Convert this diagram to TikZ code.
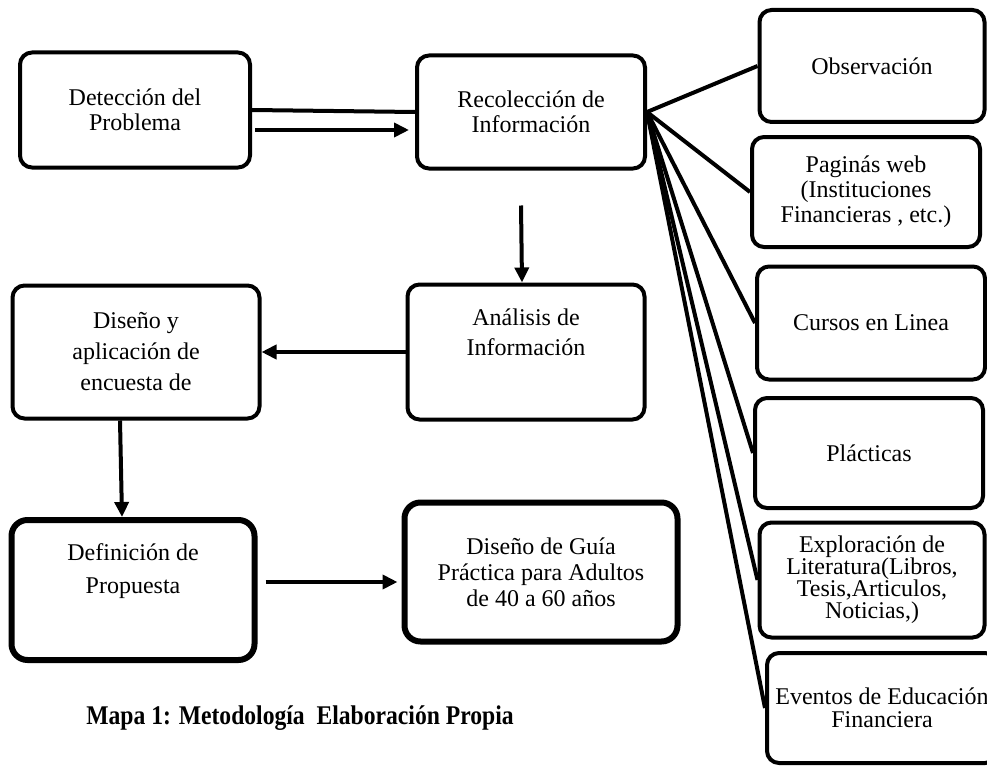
\documentclass[tikz,border=0pt]{standalone}
\usepackage{fontspec}
\setmainfont{Liberation Serif}
\usepackage{tikz}
\usetikzlibrary{arrows.meta, positioning, calc}

\begin{document}
\begin{tikzpicture}[x=1pt, y=-1pt,
    box/.style={rectangle, draw, line width=4pt, rounded corners=12pt, align=center,
        font=\fontsize{24}{25}\selectfont, inner sep=2pt},
    bigbox/.style={box, line width=6pt, rounded corners=16pt},
    link/.style={line width=4pt},
    arrow/.style={line width=4pt, -{Triangle[length=15pt,width=14pt]}}]

    \useasboundingbox (0,0) rectangle (987,765);

    % main flow
    \node (det) [box, minimum width=230pt, minimum height=115pt] at (135,110) {Detección del\\Problema};
    \node (rec) [box, minimum width=228pt, minimum height=113pt] at (531,112) {Recolección de\\Información};
    \node (ana) [box, minimum width=237pt, minimum height=135pt, font=\fontsize{24}{30}\selectfont] at (526,352) {Análisis de\\Información\\\strut};
    \node (dis) [box, minimum width=247pt, minimum height=133pt, font=\fontsize{24}{31}\selectfont] at (136,352) {Diseño y\\aplicación de\\encuesta de};
    \node (def) [bigbox, minimum width=243pt, minimum height=140pt, font=\fontsize{24}{33}\selectfont] at (133,590) {Definición de\\Propuesta\\\strut};
    \node (gui) [bigbox, minimum width=273pt, minimum height=139pt, font=\fontsize{24}{26}\selectfont] at (541,572) {Diseño de Guía\\Práctica para Adultos\\de 40 a 60 años};

    % sources
    \node (obs) [box, minimum width=225pt, minimum height=112pt] at (872,66) {Observación};
    \node (pag) [box, minimum width=228pt, minimum height=110pt] at (866,192) {Paginás web\\(Instituciones\\Financieras , etc.)};
    \node (cur) [box, minimum width=228pt, minimum height=113pt] at (871,323) {Cursos en Linea};
    \node (pla) [box, minimum width=228pt, minimum height=110pt] at (869,453) {Plácticas};
    \node (exp) [box, minimum width=225pt, minimum height=115pt, font=\fontsize{24}{22}\selectfont] at (872,580) {Exploración de\\Literatura(Libros,\\Tesis,Articulos,\\Noticias,)};
    \node (eve) [box, minimum width=230pt, minimum height=110pt, font=\fontsize{24}{23}\selectfont] at (882,708) {Eventos de Educación\\Financiera};

    \node (cap) [font=\bfseries\fontsize{27}{30}\selectfont\addfontfeature{FakeStretch=0.875}] at (300,718) {Mapa 1: Metodología\ \ Elaboración Propia};

    \draw [link] (det.east) -- (rec.west);
    \draw [arrow] ([xshift=3pt,yshift=-20pt]det.east) -- ([xshift=-6pt,yshift=-18pt]rec.west);
    \draw [arrow] ([xshift=-10pt,yshift=-35pt]rec.south) -- ([xshift=-4pt]ana.north);
    \draw [arrow] (ana.west) -- (dis.east);
    \draw [arrow] ([xshift=-16pt]dis.south) -- ([xshift=-11pt]def.north);
    \draw [arrow] ([xshift=8pt,yshift=8pt]def.east) -- ([xshift=-4pt,yshift=-10pt]gui.west);

    \foreach \src in {obs, pag, cur, pla, exp, eve}
        \draw [link] (rec.east) -- (\src.west);
\end{tikzpicture}
\end{document}
